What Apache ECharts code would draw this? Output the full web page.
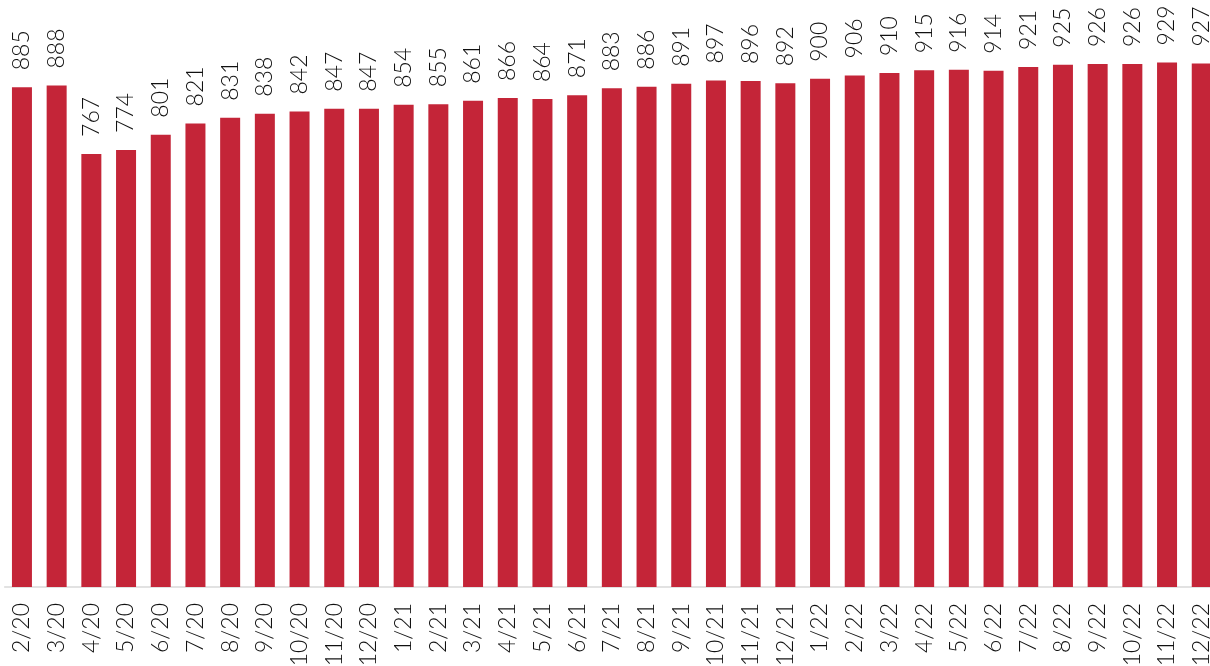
<!DOCTYPE html>
<html>
<head>
<meta charset="utf-8">
<script src="https://cdn.jsdelivr.net/npm/echarts@6/dist/echarts.min.js"></script>
<style>
  html, body { margin: 0; padding: 0; background: #fff; }
  #chart { width: 1210px; height: 666px; }
</style>
</head>
<body>
<div id="chart"></div>
<script>
// Monthly values, Feb 2020 – Dec 2022
const months = [
  '2/20','3/20','4/20','5/20','6/20','7/20','8/20','9/20','10/20','11/20','12/20',
  '1/21','2/21','3/21','4/21','5/21','6/21','7/21','8/21','9/21','10/21','11/21','12/21',
  '1/22','2/22','3/22','4/22','5/22','6/22','7/22','8/22','9/22','10/22','11/22','12/22'
];
const values = [
  885, 888, 767, 774, 801, 821, 831, 838, 842, 847, 847,
  854, 855, 861, 866, 864, 871, 883, 886, 891, 897, 896, 892,
  900, 906, 910, 915, 916, 914, 921, 925, 926, 926, 929, 927
];

const font = 'Lato, "Open Sans", sans-serif';
const chart = echarts.init(document.getElementById('chart'));
chart.setOption({
  animation: false,
  // plot area runs slightly past the right edge, so the last bar is clipped
  grid: {
    left: 4.6, width: 1214.5, top: 22.3, height: 564.7,
    containLabel: false, outerBoundsMode: 'none'
  },
  xAxis: {
    type: 'category',
    data: months,
    axisLine: { show: true, lineStyle: { color: '#d9d9d9', width: 1.5 } },
    axisTick: { show: false },
    axisLabel: {
      rotate: 90,
      interval: 0,
      margin: 16,
      color: '#111',
      fontSize: 23,
      fontWeight: 300,
      fontFamily: font
    }
  },
  yAxis: {
    type: 'value',
    min: 0,
    max: 1000,
    show: false,
    splitLine: { show: false }
  },
  series: [{
    type: 'bar',
    data: values,
    barWidth: 20,
    itemStyle: { color: '#c42538' },
    label: {
      show: true,
      position: 'top',
      rotate: 90,
      align: 'left',
      verticalAlign: 'middle',
      distance: 17,
      color: '#111',
      fontSize: 23,
      fontWeight: 300,
      fontFamily: font
    }
  }]
});
</script>
</body>
</html>
